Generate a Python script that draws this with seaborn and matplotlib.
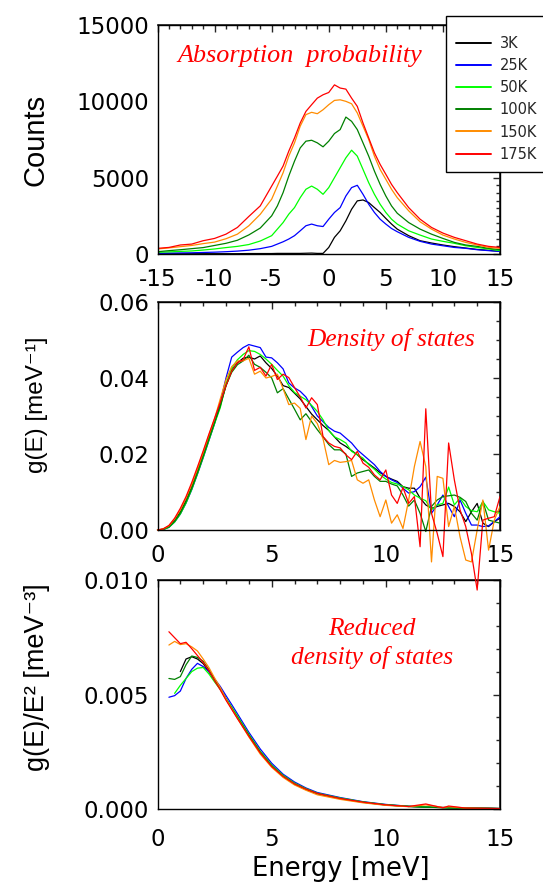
"""Phonon spectra: absorption counts, density of states and reduced DOS vs temperature."""

import matplotlib

matplotlib.use("Agg")
import matplotlib.pyplot as plt
import pandas as pd
import seaborn as sns
from matplotlib.patches import Rectangle
from matplotlib.ticker import FormatStrFormatter, MultipleLocator

TEMPS = ["3K", "25K", "50K", "100K", "150K", "175K"]
COLORS = ["#000000", "#0000ff", "#00ff00", "#008000", "#ff8c00", "#ff0000"]

# --- top panel: absorption probability (counts) ---
E_TOP = [-15, -14, -13, -12, -11, -10, -9, -8, -7, -6,
         -5, -4.5, -4, -3.5, -3, -2.5, -2, -1.5, -1, -0.5,
         0, 0.5, 1, 1.5, 2, 2.5, 3, 3.5, 4, 4.5, 5, 5.5, 6,
         7, 8, 9, 10, 11, 12, 13, 14, 15]
TOP_3K = [20, 20, 20, 20, 20, 20, 20, 20, 30, 30,
          30, 40, 40, 40, 40, 40, 50, 60, 40, 40,
          430, 1090, 1520, 2170, 2930, 3480, 3540, 3370, 3040, 2720, 2330, 1960, 1630,
          1200, 870, 720, 590, 480, 390, 300, 240, 170]
TOP_25K = [50, 60, 70, 80, 100, 120, 150, 190, 250, 350,
           500, 650, 800, 980, 1200, 1520, 1850, 1960, 1850, 1800,
           2280, 2720, 3040, 3800, 4350, 4500, 3910, 3260, 2720, 2280, 1960, 1670, 1460,
           1090, 830, 650, 540, 430, 370, 280, 220, 170]
TOP_50K = [110, 140, 170, 200, 260, 330, 420, 500, 620, 850,
           1200, 1630, 2060, 2610, 3040, 3690, 4240, 4450, 4240, 3910,
           4350, 5000, 5650, 6300, 6800, 6410, 5540, 4670, 3910, 3260, 2720, 2280, 1960,
           1520, 1240, 980, 830, 700, 540, 430, 330, 220]
TOP_100K = [150, 220, 280, 350, 420, 560, 700, 900, 1250, 1700,
            2500, 3150, 4020, 5110, 6080, 6950, 7390, 7450, 7280, 7020,
            7390, 7890, 8150, 8970, 8690, 8150, 7280, 6410, 5430, 4560, 3800, 3150, 2670,
            2060, 1630, 1300, 1020, 760, 590, 500, 370, 280]
TOP_150K = [330, 400, 480, 560, 680, 780, 1000, 1300, 1850, 2600,
            3590, 4450, 5320, 6410, 7280, 8370, 9130, 9280, 9190, 9450,
            9780, 10060, 10100, 10000, 9840, 9240, 8370, 7500, 6410, 5540, 4890, 4240, 3690,
            2830, 2110, 1630, 1240, 980, 760, 590, 430, 370]
TOP_175K = [370, 430, 590, 650, 870, 1020, 1300, 1740, 2460, 3150,
            4450, 5100, 5760, 6740, 7600, 8580, 9340, 9780, 10210, 10430,
            10580, 11080, 10870, 10800, 10210, 9670, 8580, 7600, 6630, 5870, 5220, 4560, 4020,
            3040, 2280, 1740, 1370, 1090, 870, 650, 500, 430]

# --- middle panel: density of states g(E), 0..15 meV in 0.25 meV steps ---
E_MID = [i * 0.25 for i in range(61)]
MID_3K = [0, 0.0002, 0.0009, 0.0025, 0.0048, 0.0078, 0.0114, 0.0155, 0.0198, 0.0243, 0.0286, 0.0330,
          0.0380, 0.0420, 0.0440, 0.0452, 0.0455, 0.0450, 0.0458, 0.0440, 0.0425, 0.0405, 0.0380,
          0.0375, 0.0360, 0.0345, 0.0325, 0.0305, 0.0290, 0.0275, 0.0262,
          0.0245, 0.0229, 0.0220, 0.0209, 0.0198, 0.0185, 0.0174, 0.0163, 0.0151, 0.0141,
          0.0134, 0.0128, 0.0114, 0.0110, 0.0110, 0.0084, 0.0066, 0.0057, 0.0062, 0.0066,
          0.0070, 0.0062, 0.0048, 0.0022, 0.0048, 0.0070, 0.0018, 0.0009, 0.0022, 0.0031]
MID_25K = [0, 0.0001, 0.0007, 0.0021, 0.0042, 0.0071, 0.0106, 0.0147, 0.0190, 0.0235, 0.0280, 0.0335,
           0.0400, 0.0455, 0.0468, 0.0480, 0.0488, 0.0484, 0.0480, 0.0455, 0.0453, 0.0440, 0.0424,
           0.0387, 0.0374, 0.0365, 0.0350, 0.0325, 0.0300, 0.0285, 0.0270,
           0.0260, 0.0255, 0.0242, 0.0229, 0.0211, 0.0198, 0.0185, 0.0172, 0.0154, 0.0141,
           0.0132, 0.0125, 0.0110, 0.0097, 0.0101, 0.0114, 0.0139, 0.0044, 0.0066, 0.0092,
           0.0062, 0.0035, 0.0079, 0.0044, 0.0013, 0.0013, 0.0009, 0.0011, 0.0022, 0.0035]
MID_50K = [0, 0.0001, 0.0007, 0.0021, 0.0042, 0.0071, 0.0107, 0.0148, 0.0191, 0.0236, 0.0280, 0.0322,
           0.0385, 0.0425, 0.0448, 0.0462, 0.0472, 0.0470, 0.0462, 0.0450, 0.0436, 0.0420, 0.0405,
           0.0380, 0.0362, 0.0352, 0.0343, 0.0328, 0.0312, 0.0290, 0.0262,
           0.0245, 0.0238, 0.0229, 0.0207, 0.0198, 0.0189, 0.0172, 0.0160, 0.0145, 0.0134,
           0.0125, 0.0121, 0.0114, 0.0106, 0.0092, 0.0084, 0.0077, 0.0053, 0.0066, 0.0070,
           0.0113, 0.0066, 0.0084, 0.0062, 0.0051, 0.0048, 0.0075, 0.0053, 0.0048, 0.0044]
MID_100K = [0, 0.0002, 0.0008, 0.0023, 0.0045, 0.0075, 0.0110, 0.0151, 0.0194, 0.0239, 0.0283, 0.0326,
            0.0380, 0.0415, 0.0435, 0.0445, 0.0460, 0.0436, 0.0428, 0.0415, 0.0400, 0.0361, 0.0372,
            0.0345, 0.0318, 0.0290, 0.0306, 0.0285, 0.0264, 0.0245, 0.0225,
            0.0211, 0.0211, 0.0200, 0.0141, 0.0150, 0.0154, 0.0158, 0.0141, 0.0128, 0.0128,
            0.0121, 0.0116, 0.0092, 0.0063, 0.0079, 0.0044, -0.0004, 0.0062, 0.0079, 0.0088,
            0.0090, 0.0092, 0.0086, 0.0075, 0.0044, 0.0026, 0.0075, 0.0026, 0.0022, 0.0018]
MID_150K = [0, 0.0003, 0.0011, 0.0029, 0.0053, 0.0084, 0.0120, 0.0161, 0.0204, 0.0249, 0.0293, 0.0345,
            0.0395, 0.0430, 0.0445, 0.0445, 0.0452, 0.0410, 0.0418, 0.0400, 0.0404, 0.0410, 0.0372,
            0.0330, 0.0334, 0.0320, 0.0238, 0.0300, 0.0280, 0.0240, 0.0172,
            0.0183, 0.0178, 0.0180, 0.0183, 0.0132, 0.0123, 0.0132, 0.0079, 0.0035, 0.0079,
            0.0018, 0.0040, 0.0004, 0.0079, 0.0167, 0.0233, 0.0167, -0.0084, 0.0141, 0.0136,
            0.0009, 0.0062, -0.0018, -0.0079, -0.0084, 0.0000, 0.0079, -0.0053, 0.0026, 0.0062]
MID_175K = [0, 0.0003, 0.0012, 0.0031, 0.0057, 0.0088, 0.0125, 0.0166, 0.0208, 0.0252, 0.0294, 0.0336,
            0.0380, 0.0418, 0.0440, 0.0448, 0.0482, 0.0420, 0.0428, 0.0405, 0.0436, 0.0396, 0.0410,
            0.0401, 0.0375, 0.0350, 0.0321, 0.0348, 0.0330, 0.0246, 0.0229,
            0.0220, 0.0216, 0.0198, 0.0185, 0.0207, 0.0176, 0.0165, 0.0145, 0.0132, 0.0158,
            0.0092, 0.0070, 0.0112, 0.0070, 0.0088, -0.0044, 0.0319, 0.0044, -0.0009, -0.0070,
            0.0229, 0.0132, 0.0053, 0.0009, -0.0062, -0.0158, 0.0026, 0.0031, 0.0035, 0.0088]

# --- bottom panel: reduced density of states g(E)/E^2 ---
E_BOT = [0.5, 0.75, 1.0, 1.25, 1.5, 1.75, 2.0, 2.25, 2.5, 2.75, 3.0, 3.25, 3.5,
         4.0, 4.5, 5.0, 5.5, 6.0, 6.5, 7.0,
         8, 9, 10, 11, 11.75, 12.5, 12.75, 13.5, 14.5, 15]
BOT_3K = [0.00600, 0.00655, 0.00665, 0.00655, 0.00635, 0.00600,
          0.00562, 0.00525, 0.00482, 0.00442, 0.00402,
          0.00322, 0.00250, 0.00190, 0.00145, 0.00112, 0.00088, 0.00068,
          0.00047, 0.00030, 0.00018, 0.00011, 0.00008, 0.00006, 0.00005, 0.00004, 0.00003, 0.00002]
BOT_25K = [0.00488, 0.00495, 0.00515, 0.00570, 0.00610, 0.00636, 0.00622, 0.00600,
           0.00568, 0.00535, 0.00495, 0.00456, 0.00416,
           0.00335, 0.00262, 0.00200, 0.00152, 0.00118, 0.00092, 0.00072,
           0.00050, 0.00032, 0.00020, 0.00012, 0.00009, 0.00007, 0.00006, 0.00005, 0.00003, 0.00002]
BOT_50K = [0.00505, 0.00540, 0.00570, 0.00600, 0.00615, 0.00618, 0.00590,
           0.00555, 0.00522, 0.00482, 0.00445, 0.00406,
           0.00326, 0.00252, 0.00192, 0.00147, 0.00113, 0.00089, 0.00069,
           0.00048, 0.00031, 0.00019, 0.00012, 0.00009, 0.00006, 0.00005, 0.00004, 0.00003, 0.00002]
BOT_100K = [0.00570, 0.00566, 0.00578, 0.00630, 0.00668, 0.00662, 0.00645, 0.00608,
            0.00565, 0.00525, 0.00480, 0.00440, 0.00400,
            0.00322, 0.00248, 0.00188, 0.00142, 0.00108, 0.00085, 0.00066,
            0.00045, 0.00029, 0.00017, 0.00011, 0.00008, 0.00006, 0.00005, 0.00004, 0.00003, 0.00002]
BOT_150K = [0.00716, 0.00732, 0.00718, 0.00722, 0.00708, 0.00690, 0.00655, 0.00618,
            0.00572, 0.00530, 0.00480, 0.00438, 0.00396,
            0.00315, 0.00240, 0.00182, 0.00138, 0.00105, 0.00082, 0.00062,
            0.00042, 0.00027, 0.00016, 0.00010, 0.00018, 0.00007, 0.00010, 0.00004, 0.00002, 0.00001]
BOT_175K = [0.00774, 0.00748, 0.00722, 0.00728, 0.00700, 0.00670, 0.00640, 0.00605,
            0.00560, 0.00520, 0.00475, 0.00435, 0.00395,
            0.00318, 0.00245, 0.00186, 0.00143, 0.00110, 0.00087, 0.00068,
            0.00046, 0.00030, 0.00018, 0.00011, 0.00022, 0.00005, 0.00013, 0.00004, 0.00003, 0.00002]

LABEL_FONT = ["Liberation Sans Narrow", "Liberation Sans", "DejaVu Sans"]


def long_frame(pairs):
    frames = []
    for temp, (energy, values) in zip(TEMPS, pairs):
        frames.append(pd.DataFrame({"energy": energy, "value": values, "temp": temp}))
    return pd.concat(frames, ignore_index=True)


def style_axis(ax, xmajor, xminor, ymajor, yminor, xpad=5):
    ax.xaxis.set_major_locator(MultipleLocator(xmajor))
    ax.xaxis.set_minor_locator(MultipleLocator(xminor))
    ax.yaxis.set_major_locator(MultipleLocator(ymajor))
    ax.yaxis.set_minor_locator(MultipleLocator(yminor))
    ax.tick_params(which="both", direction="out", top=False, right=False,
                   labelsize=16.5, width=1, colors="black")
    ax.tick_params(which="major", length=5, pad=1)
    ax.tick_params(which="minor", length=3)
    ax.tick_params(axis="x", pad=xpad)
    for spine in ax.spines.values():
        spine.set_visible(True)
        spine.set_color("black")
        spine.set_linewidth(1)
    # inward ticks on the right and top edges
    sec_y = ax.secondary_yaxis("right")
    sec_y.yaxis.set_major_locator(MultipleLocator(ymajor))
    sec_y.yaxis.set_minor_locator(MultipleLocator(yminor))
    sec_y.tick_params(which="both", direction="in", labelright=False, width=1)
    sec_y.tick_params(which="major", length=5)
    sec_y.tick_params(which="minor", length=3)
    sec_x = ax.secondary_xaxis("top")
    sec_x.xaxis.set_major_locator(MultipleLocator(xmajor))
    sec_x.xaxis.set_minor_locator(MultipleLocator(xminor))
    sec_x.tick_params(which="both", direction="in", labeltop=False, width=1)
    sec_x.tick_params(which="major", length=5)
    sec_x.tick_params(which="minor", length=3)


def draw(ax, df, clip=True):
    sns.lineplot(data=df, x="energy", y="value", hue="temp", hue_order=TEMPS,
                 palette=dict(zip(TEMPS, COLORS)), estimator=None, sort=False,
                 linewidth=0.9, legend=False, ax=ax, clip_on=clip)


sns.set_theme(style="white")
plt.rcParams["font.family"] = ["DejaVu Sans"]
plt.rcParams["axes.unicode_minus"] = False

fig = plt.figure(figsize=(5.43, 8.88), dpi=100)
left, width = 157.5 / 543, 342.5 / 543
ax_top = fig.add_axes([left, 1 - 254 / 888, width, 229 / 888])
ax_mid = fig.add_axes([left, 1 - 530 / 888, width, 228 / 888])
ax_bot = fig.add_axes([left, 1 - 809 / 888, width, 229 / 888])
ax_bot.set_facecolor("none")
ax_mid.set_zorder(3)

top_df = long_frame([(E_TOP, TOP_3K), (E_TOP, TOP_25K), (E_TOP, TOP_50K),
                     (E_TOP, TOP_100K), (E_TOP, TOP_150K), (E_TOP, TOP_175K)])
mid_df = long_frame([(E_MID, MID_3K), (E_MID, MID_25K), (E_MID, MID_50K),
                     (E_MID, MID_100K), (E_MID, MID_150K), (E_MID, MID_175K)])
bot_df = long_frame([(E_BOT[2:], BOT_3K), (E_BOT, BOT_25K), (E_BOT[1:], BOT_50K),
                     (E_BOT, BOT_100K), (E_BOT, BOT_150K), (E_BOT, BOT_175K)])

draw(ax_top, top_df)
draw(ax_mid, mid_df, clip=False)
draw(ax_bot, bot_df)

ax_top.set_xlim(-15, 15)
ax_top.set_ylim(0, 15000)
style_axis(ax_top, 5, 1, 5000, 500)
ax_mid.set_xlim(0, 15)
ax_mid.set_ylim(0, 0.06)
style_axis(ax_mid, 5, 1, 0.02, 0.005)
ax_mid.yaxis.set_major_formatter(FormatStrFormatter("%.2f"))
ax_bot.set_xlim(0, 15)
ax_bot.set_ylim(0, 0.010)
style_axis(ax_bot, 5, 1, 0.005, 0.001, xpad=9)
ax_bot.yaxis.set_major_formatter(FormatStrFormatter("%.3f"))

ax_top.set_ylabel("Counts", fontsize=21, color="black", family=LABEL_FONT)
ax_mid.set_ylabel("g(E) [meV\u207b\u00b9]", fontsize=17.5, color="black", family=LABEL_FONT)
ax_bot.set_ylabel("g(E)/E\u00b2 [meV\u207b\u00b3]", fontsize=19.5, color="black", family=LABEL_FONT)
ax_top.yaxis.set_label_coords(-0.315, 0.5)
ax_mid.yaxis.set_label_coords(-0.32, 0.548)
ax_bot.yaxis.set_label_coords(-0.315, 0.576)
ax_top.set_xlabel("")
ax_mid.set_xlabel("")
ax_bot.set_xlabel("Energy [meV]", fontsize=18.5, color="black")
ax_bot.xaxis.set_label_coords(0.535, -0.205)

note_kw = dict(color="red", fontstyle="italic", family="Liberation Serif",
               ha="center", va="center")
ax_top.text(0.416, 0.865, "Absorption  probability", transform=ax_top.transAxes,
            fontsize=18.8, **note_kw)
ax_mid.text(0.682, 0.837, "Density of states", transform=ax_mid.transAxes,
            fontsize=18.3, **note_kw)
ax_bot.text(0.626, 0.722, "Reduced\ndensity of states", transform=ax_bot.transAxes,
            fontsize=18.3, linespacing=1.32, **note_kw)

# legend box, drawn as its own frame so the inner padding can follow the reference
fig.add_artist(Rectangle((446 / 543, 1 - 172 / 888), 110 / 543, 156 / 888,
                         transform=fig.transFigure, facecolor="white",
                         edgecolor="black", linewidth=1, zorder=4))
handles = ax_top.get_lines()[:len(TEMPS)]
leg = fig.legend(handles, TEMPS, loc="upper left", bbox_to_anchor=(456 / 543, 1 - 36 / 888),
                 frameon=False, fontsize=10.5, handlelength=2.4, handletextpad=0.6,
                 labelspacing=0.49, borderpad=0, borderaxespad=0)
for line in leg.get_lines():
    line.set_linewidth(1.4)
leg.set_zorder(10)

fig.savefig("out.png", dpi=100)
